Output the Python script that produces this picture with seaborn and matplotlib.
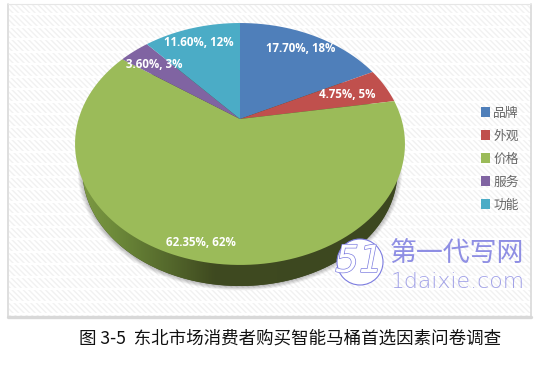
import numpy as np
import matplotlib
matplotlib.use("Agg")
import matplotlib.pyplot as plt
import matplotlib.patheffects as pe
from matplotlib.colors import LinearSegmentedColormap
from matplotlib.patches import Patch, Rectangle, Circle
import seaborn as sns

# values
categories = ["品牌", "外观", "价格", "服务", "功能"]
shares = [17.70, 4.75, 62.35, 3.60, 11.60]
rounded = [18, 5, 62, 3, 12]
colors = ["#4f7fba", "#c0504d", "#9bbb59", "#8064a2", "#4bacc6"]
caption = "图 3-5  东北市场消费者购买智能马桶首选因素问卷调查"

sns.set_theme(style="white")
plt.rcParams["font.family"] = ["Noto Sans CJK SC", "DejaVu Sans"]

fig = plt.figure(figsize=(5.39, 3.65), dpi=100)
ax = fig.add_axes([0, 0, 1, 1])
ax.set_xlim(0, 539)
ax.set_ylim(365, 0)
ax.axis("off")

# pie tilted in perspective, apex sits above the ellipse centre
CX, CY, A, B, C = 240, 119, 161.4, 115.8, 0.2066


def project(theta, r=1.0, scale=1.0, dy=0.0):
    # theta clockwise from 12 o'clock
    x, v = r * np.sin(theta), r * np.cos(theta)
    den = 1 + C * v
    return CX + scale * A * x / den, CY + dy - scale * B * v / den


# background panel
ax.add_patch(Rectangle((9, 4), 522, 313, fc="white", ec="none", zorder=0))
ax.add_patch(Rectangle((9, 4), 522, 313, fc="none", ec="#f1f1f1", hatch="\\\\\\\\\\\\", lw=0, zorder=0.1))
for y in np.arange(14, 317, 12.5):
    ax.plot([9, 531], [y, y], color="white", lw=1.6, zorder=0.2)
ax.plot([8, 8, 531, 531], [4, 317, 317, 4], color="#d9d9d9", lw=1.2, zorder=0.3)
ax.plot([8, 531], [317, 317], color="#d8d8d8", lw=2.4, zorder=0.3)
ax.plot([8, 531], [4, 4], color="#e6e6e6", lw=0.8, zorder=0.3)

circle = np.linspace(0, 2 * np.pi, 361)

# soft shadow under the pie
for grow in np.linspace(1.03, 0.99, 12):
    sx, sy = project(circle, scale=0.955 * grow, dy=28)
    ax.fill(sx, sy, color="black", alpha=0.03, lw=0, zorder=1)

# side wall with a gradient running left to right
bx, by = project(circle, scale=0.955, dy=27.6)
wall = ax.fill(bx, by, color="#3f4a20", lw=0, zorder=2)[0]
cmap = LinearSegmentedColormap.from_list(
    "wall", [(0, "#7f9c45"), (0.12, "#6d8a3a"), (0.28, "#55692c"), (0.42, "#3f4a20"), (1, "#3c4720")])
grad = ax.imshow(np.linspace(0, 1, 256).reshape(1, -1), extent=(75, 405, 300, 150), cmap=cmap, aspect="auto", zorder=2.1)
grad.set_clip_path(wall)
ax.set_xlim(0, 539)
ax.set_ylim(365, 0)

# top face
edges = np.cumsum([0] + shares) / 100 * 2 * np.pi
for i in range(len(shares)):
    t = np.linspace(edges[i], edges[i + 1], 120)
    px, py = project(t)
    ax.fill(np.r_[CX, px], np.r_[CY, py], color=colors[i], lw=0, zorder=3)

# value labels
label_xy = [(301, 49), (347, 95), (201, 243), (154, 64), (199, 42)]
for (lx, ly), v, r in zip(label_xy, shares, rounded):
    ax.text(lx, ly, f"{v:.2f}%, {r}%", color="white", fontsize=8.3, fontweight="bold",
            family="Open Sans", ha="center", va="center", zorder=4)

# legend
handles = [Patch(fc=c, ec="none") for c in colors]
ax.legend(handles, categories, loc="upper left", bbox_to_anchor=(478 / 539, 1 - 104 / 365), frameon=False,
          fontsize=9.2, labelcolor="#666666", handlelength=0.7, handleheight=0.75, handletextpad=0.3,
          labelspacing=0.78, borderpad=0.2, borderaxespad=0)

# watermark
mark = "#7c7ce0"
ax.add_patch(Circle((360, 262), 23, fc="white", ec=mark, lw=0.8, zorder=5))
ax.text(359, 262, "51", color="white", fontsize=27, style="italic", family="DejaVu Sans", ha="center", va="center",
        zorder=6, path_effects=[pe.withStroke(linewidth=1.0, foreground=mark)])
ax.text(457, 253, "第一代写网", color=mark, fontsize=19.4, ha="center", va="center", zorder=6, alpha=0.85,
        family="Noto Sans CJK SC", fontweight="light")
ax.text(458, 282, "1daixie.com", color=mark, fontsize=15.8, ha="center", va="center", zorder=6, alpha=0.7,
        family="DejaVu Sans", fontweight="light")

# caption
ax.text(290.5, 339, caption, color="#111111", fontsize=12.6, ha="center", va="center", zorder=6)

fig.savefig("out.png", dpi=100)
